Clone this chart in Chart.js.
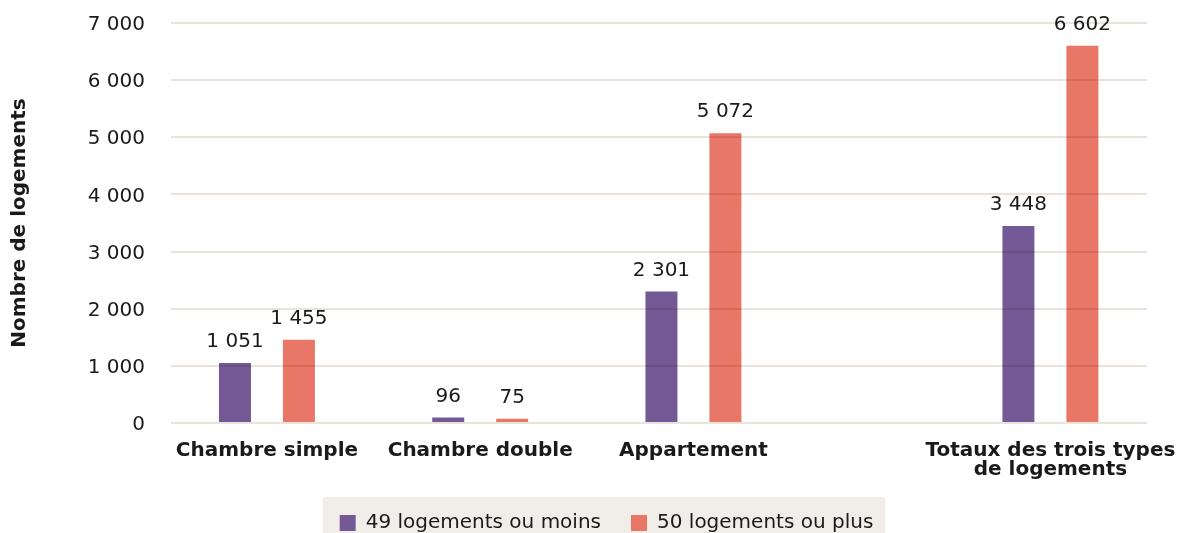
<!DOCTYPE html>
<html lang="fr">
<head>
<meta charset="utf-8">
<script src="https://cdn.jsdelivr.net/npm/chart.js@4.4.1/dist/chart.umd.min.js"></script>
<style>
  html, body { margin: 0; padding: 0; background: #fff; overflow: hidden; }
  #wrap { width: 1180px; height: 543px; }
</style>
</head>
<body>
<div id="wrap"><canvas id="chart"></canvas></div>
<script>
const categories = [
  "Chambre simple",
  "Chambre double",
  "Appartement",
  ["Totaux des trois types", "de logements"]
];
const seriesNames = ["49 logements ou moins", "50 logements ou plus"];
const small = [1051, 96, 2301, 3448];
const large = [1455, 75, 5072, 6602];
const yTicks = [0, 1000, 2000, 3000, 4000, 5000, 6000, 7000];

// the totals group is set further right than the regular spacing
const groupX = [1, 2, 3, 4.674];

const FONT = "'DejaVu Sans', Verdana, sans-serif";
const INK = "#1a1a1a";
const LEGEND_SHIFT = 33;

// 1051 -> "1 051"
const fmt = n => String(n).replace(/\B(?=(\d{3})+(?!\d))/g, " ");
const toPoints = vals => vals.map((v, i) => ({ x: groupX[i], y: v }));

// light panel behind the legend items
const legendPanel = {
  id: "legendPanel",
  afterLayout(chart) {
    chart.legend.left += LEGEND_SHIFT;
    chart.legend.right += LEGEND_SHIFT;
  },
  beforeDraw(chart) {
    const boxes = chart.legend.legendHitBoxes;
    if (!boxes || !boxes.length) return;
    const first = boxes[0], last = boxes[boxes.length - 1];
    const ctx = chart.ctx;
    ctx.save();
    ctx.fillStyle = "#f1eeea";
    const x0 = first.left - 17;
    const x1 = last.left + last.width + 12;
    const y0 = first.top - 16;
    ctx.fillRect(x0, y0, x1 - x0, chart.height - y0);
    ctx.restore();
  }
};

// gridlines are laid over the bars like in the original
const gridBlend = {
  id: "gridBlend",
  afterDatasetsDraw(chart) { chart.ctx.globalCompositeOperation = "multiply"; },
  afterDraw(chart) { chart.ctx.globalCompositeOperation = "source-over"; }
};

const valueLabels = {
  id: "valueLabels",
  afterDraw(chart) {
    const ctx = chart.ctx;
    ctx.save();
    ctx.font = "20px " + FONT;
    ctx.fillStyle = INK;
    ctx.textAlign = "center";
    ctx.textBaseline = "alphabetic";
    chart.data.datasets.forEach((ds, i) => {
      chart.getDatasetMeta(i).data.forEach((bar, j) => {
        ctx.fillText(fmt(ds.data[j].y), bar.x, bar.y - 16);
      });
    });
    ctx.restore();
  }
};

new Chart(document.getElementById("chart"), {
  type: "bar",
  data: {
    datasets: [
      {
        label: seriesNames[0],
        data: toPoints(small),
        backgroundColor: "#735a96",
        categoryPercentage: 0.6,
        barPercentage: 0.5
      },
      {
        label: seriesNames[1],
        data: toPoints(large),
        backgroundColor: "#e97767",
        categoryPercentage: 0.6,
        barPercentage: 0.5
      }
    ]
  },
  options: {
    responsive: true,
    maintainAspectRatio: false,
    animation: false,
    layout: { padding: { top: 23, right: 33, left: 0, bottom: 0 } },
    plugins: {
      tooltip: { enabled: false },
      legend: {
        position: "bottom",
        labels: {
          boxWidth: 16,
          boxHeight: 16,
          padding: 10,
          color: INK,
          font: { family: FONT, size: 20 },
          // widen the gap after the first item
          generateLabels: chart => {
            const items = Chart.defaults.plugins.legend.labels.generateLabels(chart);
            items[0].text += "\u2002\u2002";
            return items;
          }
        }
      }
    },
    scales: {
      x: {
        type: "linear",
        min: 0.55,
        max: 5.127,
        offset: false,
        grid: { display: false, drawTicks: false },
        border: { display: false },
        afterBuildTicks: s => { s.ticks = groupX.map(v => ({ value: v })); },
        afterFit: s => {
          s.height = 80;
          // the long last label may run into the right margin
          s.paddingLeft = 0;
          s.paddingRight = 0;
        },
        ticks: {
          autoSkip: false,
          maxRotation: 0,
          padding: 18,
          color: INK,
          font: { family: FONT, size: 20, weight: "bold", lineHeight: 0.95 },
          callback: (v, i) => categories[i]
        }
      },
      y: {
        min: 0,
        max: 7000,
        afterBuildTicks: s => { s.ticks = yTicks.map(v => ({ value: v })); },
        afterFit: s => {
          s.width = 171;
          s.paddingTop = 0;
        },
        grid: { color: "#e9e3dc", lineWidth: 2, z: 1, drawTicks: false },
        border: { display: false },
        ticks: {
          padding: 26,
          labelOffset: 2,
          color: INK,
          font: { family: FONT, size: 20 },
          callback: v => fmt(v)
        },
        title: {
          display: true,
          text: "Nombre de logements",
          color: INK,
          font: { family: FONT, size: 20, weight: "bold" },
          padding: { top: 8, bottom: 0 }
        }
      }
    }
  },
  plugins: [legendPanel, gridBlend, valueLabels]
});
</script>
</body>
</html>
